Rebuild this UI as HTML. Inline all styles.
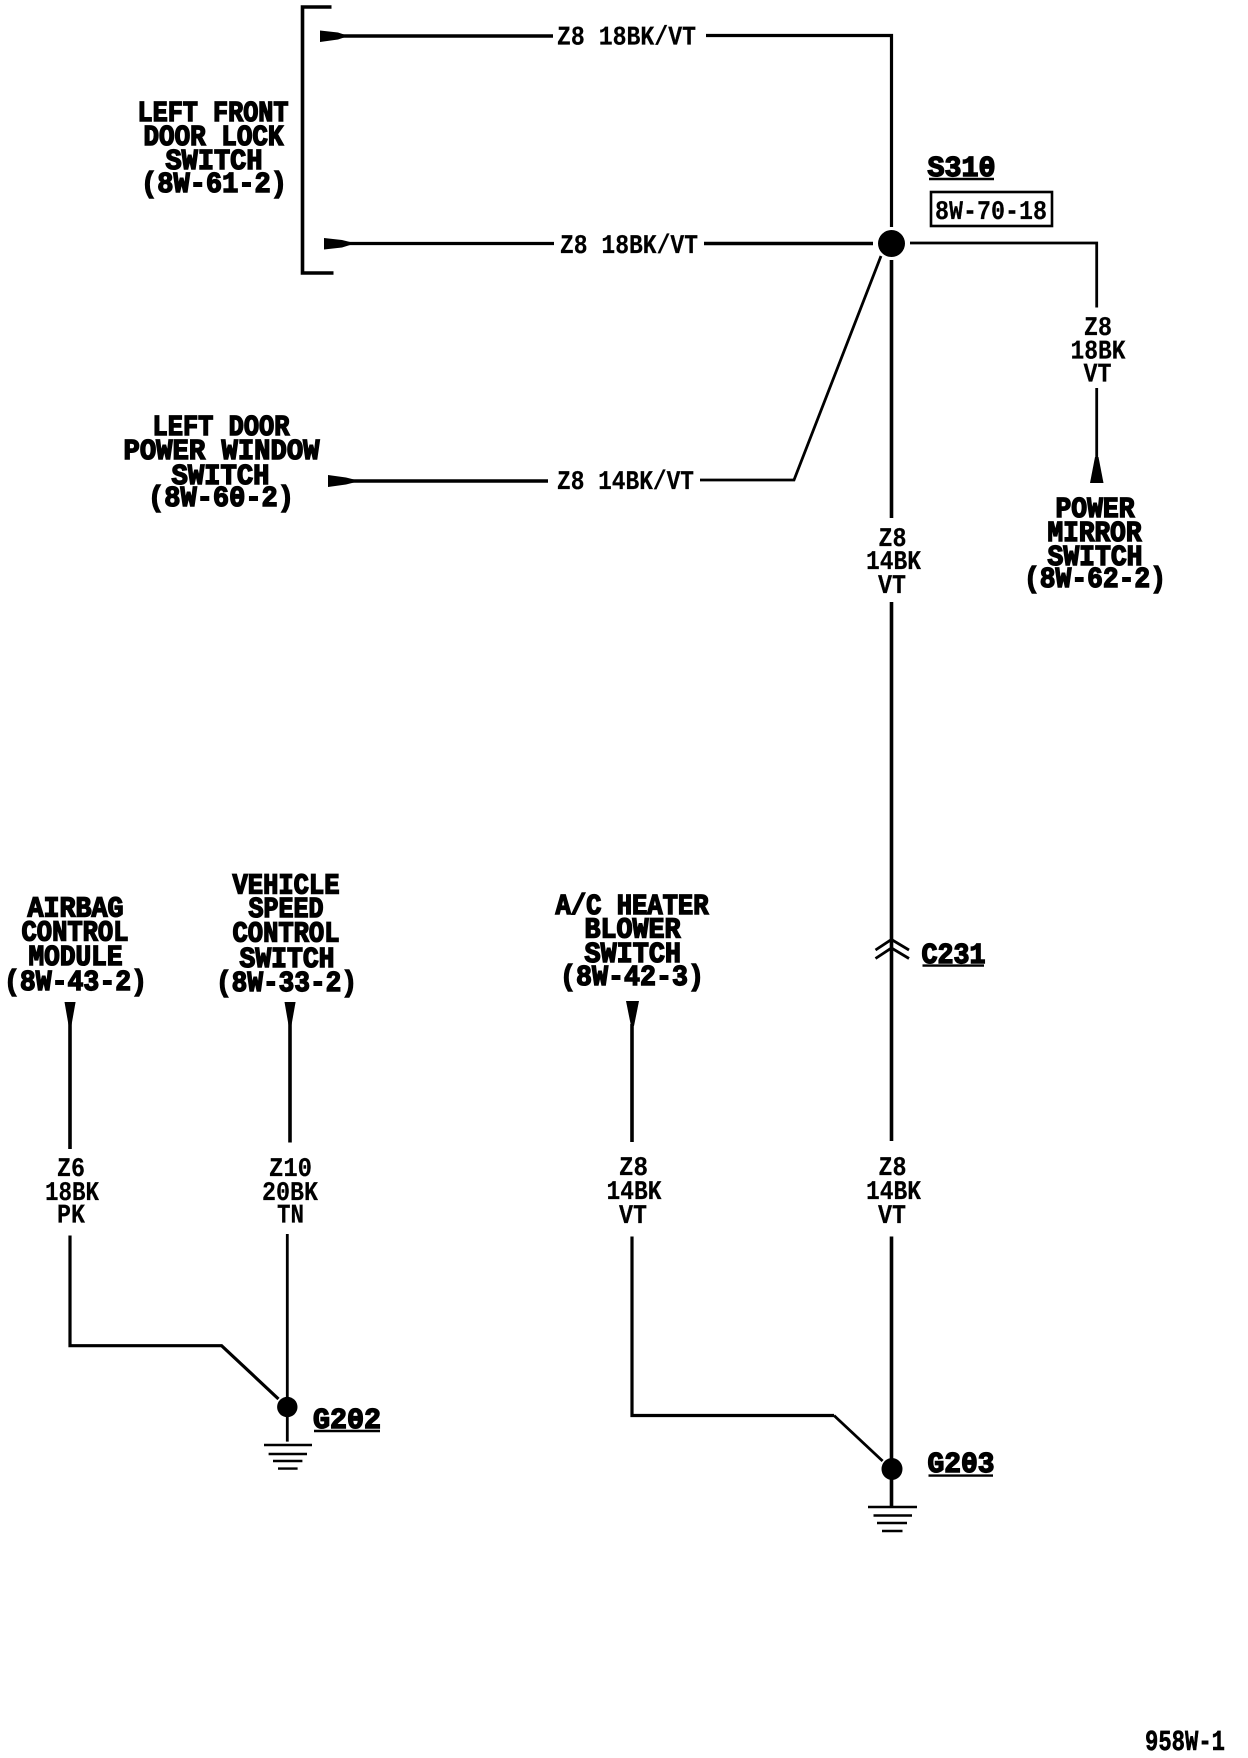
<!DOCTYPE html>
<html><head><meta charset="utf-8"><style>
html,body{margin:0;padding:0;background:#fff}
svg{display:block}
text{font-family:"Liberation Mono",monospace;font-weight:bold;fill:#000;text-rendering:geometricPrecision}
.h{font-size:29px;stroke:#000;stroke-width:1.5px}
.t{font-size:27px;stroke:#000;stroke-width:.2px}
.w{fill:none;stroke:#000;stroke-width:3.6;stroke-linejoin:miter}
.n{fill:none;stroke:#000;stroke-width:2.8}
</style></head><body>
<svg width="1248" height="1758" viewBox="0 0 1248 1758" xmlns="http://www.w3.org/2000/svg">
<rect width="1248" height="1758" fill="#fff"/>
<!-- bracket -->
<path class="w" d="M331.5 7H302.5V273H333.5"/>
<!-- wires -->
<path d="M320 30.5L338 32.500L344 34.5V37.5L338 39.500L320 42Z"/><path class="w" d="M340 36H553"/>
<path class="w" d="M706 35.5H891.5V227" style="stroke-width:3.2"/>
<path d="M324 238L342 240L350 242V245L342 247.500L324 249.5Z"/><path class="w" d="M345 243.5H554" style="stroke-width:3.2"/>
<path class="w" d="M704 243.5H873"/>
<path d="M328 475L346 477.500L354 479.5V482.5L346 484.500L328 487Z"/><path class="w" d="M350 481H548"/>
<path class="n" d="M700 480H794L881 256"/>
<circle cx="891.5" cy="243.5" r="13.5"/>
<path class="n" d="M910 243H1096.7V307.5"/>
<path class="n" d="M1096.7 388V460"/>
<path d="M1095 457H1098.5L1103.5 483H1090Z"/>
<path class="w" d="M891.5 260V518"/>
<path class="w" d="M891.5 602V1141"/>
<path class="w" d="M891.5 1236.5V1506"/>
<ellipse cx="892" cy="1469" rx="10.5" ry="11"/>
<path class="n" d="M875.5 950L891.5 939.5L909 950M875.5 958.5L891.5 948L909 958.5"/>
<path d="M868 1505.8H917V1508.2H868ZM873.5 1514.3H912V1516.7H873.5ZM877 1521.8H907V1524.2H877ZM882 1529.8H902.5V1532.2H882Z"/>
<path d="M626 1001H639L634 1026H631Z"/>
<path class="w" d="M632 1024V1142"/>
<path class="w" d="M632 1236.5V1415.5H834" style="stroke-width:3.2"/>
<path class="n" d="M834 1415.5L882.6 1461"/>
<path d="M64.5 1002H75.6L71.5 1025H68.5Z"/>
<path class="w" d="M70 1022V1149"/>
<path d="M284.5 1002H295.6L291.5 1025H288.5Z"/>
<path class="w" d="M290 1022V1142.5"/>
<path class="w" d="M70 1235.5V1345.7H221.6L278.5 1399" style="stroke-width:3.2"/>
<path class="n" d="M287.3 1234V1441.6"/>
<circle cx="287.3" cy="1407" r="10.2"/>
<path d="M264 1443.8H312V1446.2H264ZM268.6 1452.8H307V1455.2H268.6ZM273 1459.8H302.4V1462.2H273ZM278 1467.4H297.6V1469.8H278Z"/>
<!-- box -->
<rect x="931" y="192" width="121" height="34" fill="none" stroke="#000" stroke-width="2.6"/>
<!-- underlines -->
<path class="n" d="M929 179H994M314 1431H380M928.5 1475.6H993M922.5 965.6H984" style="stroke-width:2.4"/>
<!-- horizontal wire labels -->
<text class="t" x="557" y="44.5" textLength="139" lengthAdjust="spacingAndGlyphs" xml:space="preserve">Z8 18BK/VT</text>
<text class="t" x="560" y="253" textLength="138" lengthAdjust="spacingAndGlyphs" xml:space="preserve">Z8 18BK/VT</text>
<text class="t" x="557" y="489" textLength="137" lengthAdjust="spacingAndGlyphs" xml:space="preserve">Z8 14BK/VT</text>
<!-- left front -->
<text class="h" x="137.500" y="121" textLength="151" lengthAdjust="spacingAndGlyphs" xml:space="preserve">LEFT FRONT</text>
<text class="h" x="143.500" y="145" textLength="140" lengthAdjust="spacingAndGlyphs" xml:space="preserve">DOOR LOCK</text>
<text class="h" x="165.500" y="169" textLength="97" lengthAdjust="spacingAndGlyphs">SWITCH</text>
<text class="h" x="141" y="192" textLength="146" lengthAdjust="spacingAndGlyphs">(8W-61-2)</text>
<!-- left door -->
<text class="h" x="152.500" y="435" textLength="137" lengthAdjust="spacingAndGlyphs" xml:space="preserve">LEFT DOOR</text>
<text class="h" x="123.500" y="459" textLength="196" lengthAdjust="spacingAndGlyphs" xml:space="preserve">POWER WINDOW</text>
<text class="h" x="171.500" y="484" textLength="98" lengthAdjust="spacingAndGlyphs">SWITCH</text>
<text class="h" x="148" y="506" textLength="146" lengthAdjust="spacingAndGlyphs">(8W-60-2)</text>
<!-- S310 -->
<text class="h" x="927.500" y="176" textLength="68" lengthAdjust="spacingAndGlyphs">S310</text>
<text class="t" x="935" y="219" textLength="112" lengthAdjust="spacingAndGlyphs">8W-70-18</text>
<!-- Right wire -->
<text class="t" x="1084" y="335" textLength="28" lengthAdjust="spacingAndGlyphs">Z8</text>
<text class="t" x="1070.500" y="358.5" textLength="55" lengthAdjust="spacingAndGlyphs">18BK</text>
<text class="t" x="1083.500" y="381.5" textLength="28" lengthAdjust="spacingAndGlyphs">VT</text>
<!-- power mirror -->
<text class="h" x="1055.500" y="517" textLength="79" lengthAdjust="spacingAndGlyphs">POWER</text>
<text class="h" x="1047.500" y="541" textLength="94" lengthAdjust="spacingAndGlyphs">MIRROR</text>
<text class="h" x="1047.500" y="565" textLength="95" lengthAdjust="spacingAndGlyphs">SWITCH</text>
<text class="h" x="1024" y="587" textLength="142" lengthAdjust="spacingAndGlyphs">(8W-62-2)</text>
<!-- center wire 1 -->
<text class="t" x="878.500" y="546" textLength="28" lengthAdjust="spacingAndGlyphs">Z8</text>
<text class="t" x="866" y="569" textLength="55" lengthAdjust="spacingAndGlyphs">14BK</text>
<text class="t" x="878" y="593" textLength="28" lengthAdjust="spacingAndGlyphs">VT</text>
<!-- center wire 2 -->
<text class="t" x="878.500" y="1175" textLength="28" lengthAdjust="spacingAndGlyphs">Z8</text>
<text class="t" x="866" y="1199" textLength="55" lengthAdjust="spacingAndGlyphs">14BK</text>
<text class="t" x="878" y="1223" textLength="28" lengthAdjust="spacingAndGlyphs">VT</text>
<!-- heater wire -->
<text class="t" x="619" y="1175" textLength="29" lengthAdjust="spacingAndGlyphs">Z8</text>
<text class="t" x="606.500" y="1199" textLength="55" lengthAdjust="spacingAndGlyphs">14BK</text>
<text class="t" x="619" y="1223" textLength="28" lengthAdjust="spacingAndGlyphs">VT</text>
<!-- airbag wire -->
<text class="t" x="57" y="1176" textLength="28" lengthAdjust="spacingAndGlyphs">Z6</text>
<text class="t" x="45" y="1200" textLength="54" lengthAdjust="spacingAndGlyphs">18BK</text>
<text class="t" x="57" y="1222.5" textLength="28" lengthAdjust="spacingAndGlyphs">PK</text>
<!-- vss wire -->
<text class="t" x="269" y="1176" textLength="43" lengthAdjust="spacingAndGlyphs">Z10</text>
<text class="t" x="262" y="1200" textLength="56" lengthAdjust="spacingAndGlyphs">20BK</text>
<text class="t" x="277" y="1222.5" textLength="27" lengthAdjust="spacingAndGlyphs">TN</text>
<!-- airbag -->
<text class="h" x="27.500" y="916.5" textLength="96" lengthAdjust="spacingAndGlyphs">AIRBAG</text>
<text class="h" x="21.500" y="940.5" textLength="107" lengthAdjust="spacingAndGlyphs">CONTROL</text>
<text class="h" x="28.500" y="965" textLength="94" lengthAdjust="spacingAndGlyphs">MODULE</text>
<text class="h" x="4" y="990" textLength="143" lengthAdjust="spacingAndGlyphs">(8W-43-2)</text>
<!-- vehicle speed -->
<text class="h" x="232.500" y="893.5" textLength="107" lengthAdjust="spacingAndGlyphs">VEHICLE</text>
<text class="h" x="248.500" y="917" textLength="75" lengthAdjust="spacingAndGlyphs">SPEED</text>
<text class="h" x="232.500" y="941.5" textLength="107" lengthAdjust="spacingAndGlyphs">CONTROL</text>
<text class="h" x="239.500" y="967" textLength="95" lengthAdjust="spacingAndGlyphs">SWITCH</text>
<text class="h" x="216" y="991" textLength="141" lengthAdjust="spacingAndGlyphs">(8W-33-2)</text>
<!-- heater -->
<text class="h" x="555.500" y="914" textLength="153" lengthAdjust="spacingAndGlyphs" xml:space="preserve">A/C HEATER</text>
<text class="h" x="584.500" y="937.5" textLength="96" lengthAdjust="spacingAndGlyphs">BLOWER</text>
<text class="h" x="584.500" y="962" textLength="96.500" lengthAdjust="spacingAndGlyphs">SWITCH</text>
<text class="h" x="560" y="985" textLength="144" lengthAdjust="spacingAndGlyphs">(8W-42-3)</text>
<!-- refs -->
<text class="h" x="921.500" y="963" textLength="64" lengthAdjust="spacingAndGlyphs">C231</text>
<text class="h" x="313" y="1428" textLength="68" lengthAdjust="spacingAndGlyphs">G202</text>
<text class="h" x="927.5" y="1472" textLength="67" lengthAdjust="spacingAndGlyphs">G203</text>
<text class="h" x="1145" y="1750" textLength="80" lengthAdjust="spacingAndGlyphs" style="stroke-width:.6px">958W-1</text>
</svg>
</body></html>
